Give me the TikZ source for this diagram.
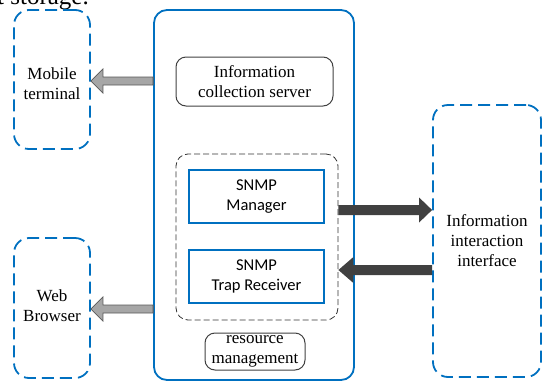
\documentclass[tikz,border=0pt]{standalone}
\usepackage{fontspec}
\setmainfont{Liberation Serif}
\newfontfamily\snmpfont{Carlito}
\usetikzlibrary{calc}

\definecolor{boxblue}{RGB}{0,112,192}
\definecolor{darkarrow}{RGB}{64,64,64}
\definecolor{grayarrow}{RGB}{166,166,166}

\tikzset{
  txt/.style={font=\fontsize{17}{20}\selectfont, align=center},
  outerbox/.style={draw=boxblue, line width=1.8pt, dash pattern=on 12pt off 6pt, rounded corners=15pt, inner sep=0pt},
  mainbox/.style={draw=boxblue, line width=1.8pt, rounded corners=13pt, inner sep=0pt},
  softbox/.style={draw=black!75, line width=1pt, rounded corners=10pt, inner sep=0pt, txt},
  groupbox/.style={draw=black!80, line width=0.8pt, dash pattern=on 6pt off 3pt, rounded corners=12pt, inner sep=0pt},
  snmpbox/.style={draw=boxblue, line width=1.2pt, inner sep=0pt, align=center, font=\snmpfont\fontsize{16.5}{20}\selectfont},
  darkfat/.style={fill=darkarrow},
  grayfat/.style={fill=grayarrow, draw=black!65, line width=0.8pt},
}

% #1 style, #2 from, #3 to, #4 shaft half, #5 head half, #6 head length
\newcommand{\fatarrow}[6]{%
  \path[#1] let \p1=(#2), \p2=(#3), \n1={(\x2>\x1)?1:-1}, \n2={\x2-\n1*#6} in
    (\x1,{\y1+#4}) -- ({\n2*1pt},{\y1+#4}) -- ({\n2*1pt},{\y1+#5}) -- (\x2,\y1)
    -- ({\n2*1pt},{\y1-#5}) -- ({\n2*1pt},{\y1-#4}) -- (\x1,{\y1-#4}) -- cycle;}

\begin{document}
\begin{tikzpicture}[x=1pt, y=-1pt]
    \useasboundingbox (0,0) rectangle (542,381);

    % text of the page above
    \node[anchor=base west, inner sep=0pt, font=\fontsize{25}{25}\selectfont] (frag) at (-3,4) {t storage.};

    % clients
    \node[outerbox, minimum width=76pt, minimum height=139pt] (mob) at (52,79.5) {};
    \node[txt] at (52,84) {Mobile\\terminal};
    \node[outerbox, minimum width=76pt, minimum height=140pt] (web) at (52,308) {};
    \node[txt] at (52,306) {Web\\Browser};

    % server side
    \node[mainbox, minimum width=200pt, minimum height=370pt] (main) at (254,195) {};
    \node[softbox, minimum width=157pt, minimum height=49pt] (srv) at (254.5,81.5) {Information\\collection server};
    \node[groupbox, minimum width=162pt, minimum height=166pt] (grp) at (257,237) {};
    \node[snmpbox, minimum width=135pt, minimum height=53pt] (mgr) at (256.5,196.5) {SNMP\\Manager};
    \node[snmpbox, minimum width=135pt, minimum height=53pt] (trap) at (256.5,276.5) {SNMP\\Trap Receiver};
    \node[softbox, minimum width=100pt, minimum height=37pt] (res) at (255,351.5) {resource\\management};

    % interface
    \node[outerbox, minimum width=108pt, minimum height=272pt] (itf) at (487,241) {};
    \node[txt] at (itf) {Information\\interaction\\interface};

    % arrows
    \fatarrow{grayfat}{main.west |- 0,81}{mob.east |- 0,81}{4pt}{12pt}{12}
    \fatarrow{grayfat}{main.west |- 0,309}{web.east |- 0,309}{4pt}{12pt}{12}
    \fatarrow{darkfat}{grp.east |- 0,210}{itf.west |- 0,210}{5pt}{12.5pt}{13}
    \fatarrow{darkfat}{itf.west |- 0,270}{grp.east |- 0,270}{5pt}{13pt}{15}
\end{tikzpicture}
\end{document}
